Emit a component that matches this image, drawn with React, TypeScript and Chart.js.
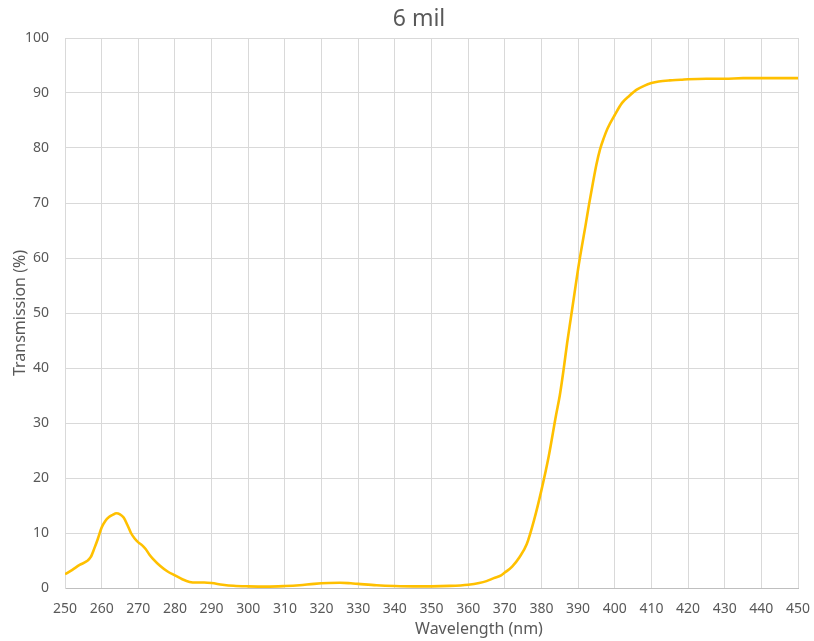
import React, { useEffect, useRef } from "react";
import { Chart, registerables } from "chart.js";

Chart.register(...registerables);

const chartTitle = "6 mil";
const xAxisTitle = "Wavelength (nm)";
const yAxisTitle = "Transmission (%)";

const wavelengths = [
  250, 252, 254, 256, 257, 258, 259, 260, 261, 262, 263, 264, 265, 266, 267, 268, 269, 270,
  271, 272, 273, 274, 276, 278, 280, 282, 284, 286, 288, 290, 293, 296, 300, 305, 310, 314,
  318, 322, 325, 328, 330, 335, 340, 345, 350, 355, 360, 363, 365, 367, 369, 370, 372, 374,
  376, 378, 380, 382, 384, 385, 386, 387, 388, 389, 390, 391, 392, 393, 394, 395, 396, 397,
  398, 400, 402, 404, 406, 408, 410, 412, 415, 418, 420, 425, 430, 435, 440, 445, 450,
];

const transmission = [
  2.5, 3.3, 4.2, 4.9, 5.6, 7.2, 9.0, 11.0, 12.2, 12.9, 13.3, 13.6, 13.4, 12.8, 11.5, 10.0, 9.0, 8.3,
  7.8, 7.1, 6.1, 5.3, 4.0, 3.0, 2.3, 1.6, 1.1, 1.0, 1.0, 0.9, 0.6, 0.4, 0.3, 0.25, 0.35, 0.5,
  0.75, 0.9, 0.95, 0.85, 0.75, 0.5, 0.36, 0.3, 0.3, 0.38, 0.6, 0.9, 1.25, 1.8, 2.3, 2.8, 3.9, 5.6,
  8.0, 12.4, 17.8, 24.0, 31.5, 35.0, 39.5, 44.5, 49.0, 53.5, 58.0, 62.0, 65.8, 69.8, 73.5, 77.0, 79.8, 81.8,
  83.5, 86.0, 88.2, 89.5, 90.6, 91.3, 91.8, 92.1, 92.3, 92.4, 92.5, 92.6, 92.6, 92.7, 92.7, 92.7, 92.7,
];

const xMin = 250;
const xMax = 450;
const xStep = 10;
const yMin = 0;
const yMax = 100;
const yStep = 10;

const FONT = "'Noto Sans', 'DejaVu Sans', sans-serif";
const TEXT = "#595959";
const GRID = "#d9d9d9";

const titlesPlugin = {
  id: "chartTexts",
  afterDraw(chart: any) {
    const { ctx, chartArea } = chart;
    ctx.save();
    ctx.fillStyle = TEXT;
    ctx.textAlign = "center";
    ctx.textBaseline = "middle";
    ctx.font = `23px ${FONT}`;
    ctx.fillText(chartTitle, 419, 19);
    ctx.font = `16px ${FONT}`;
    ctx.fillText(xAxisTitle, 479, 629);
    ctx.translate(20, (chartArea.top + chartArea.bottom) / 2);
    ctx.rotate(-Math.PI / 2);
    ctx.fillText(yAxisTitle, 0, 0);
    ctx.restore();
  },
};

export default function App() {
  const canvasRef = useRef<HTMLCanvasElement | null>(null);

  useEffect(() => {
    if (!canvasRef.current) return;
    const points = wavelengths.map((w, i) => ({ x: w, y: transmission[i] }));
    const chart = new Chart(canvasRef.current, {
      type: "line",
      data: {
        datasets: [
          {
            label: chartTitle,
            data: points,
            borderColor: "#FFC000",
            backgroundColor: "#FFC000",
            borderWidth: 2.6,
            pointRadius: 0,
            cubicInterpolationMode: "monotone",
            fill: false,
          },
        ],
      },
      options: {
        responsive: false,
        animation: false,
        layout: { padding: { left: 0, right: 16, top: 38, bottom: 0 } },
        plugins: {
          legend: { display: false },
          tooltip: { enabled: false },
          title: { display: false },
        },
        scales: {
          x: {
            type: "linear",
            min: xMin,
            max: xMax,
            ticks: {
              stepSize: xStep,
              color: TEXT,
              font: { family: FONT, size: 14 },
              padding: 13,
              maxRotation: 0,
            },
            grid: { color: GRID, drawTicks: false, lineWidth: 1 },
            border: { color: "#bfbfbf", width: 1 },
            afterFit(scale: any) {
              scale.height = 53;
              scale.paddingLeft = 0;
              scale.paddingRight = 0;
            },
          },
          y: {
            type: "linear",
            min: yMin,
            max: yMax,
            ticks: {
              stepSize: yStep,
              color: TEXT,
              font: { family: FONT, size: 14 },
              padding: 16,
            },
            grid: { color: GRID, drawTicks: false, lineWidth: 1 },
            border: { color: GRID, width: 1 },
            afterFit(scale: any) {
              scale.width = 65;
              scale.paddingTop = 0;
              scale.paddingBottom = 0;
            },
          },
        },
      },
      plugins: [titlesPlugin],
    });
    return () => chart.destroy();
  }, []);

  return (
    <div style={{ position: "absolute", left: 0, top: 0, width: 814, height: 641, background: "#fff" }}>
      <canvas ref={canvasRef} width={814} height={641} />
    </div>
  );
}
